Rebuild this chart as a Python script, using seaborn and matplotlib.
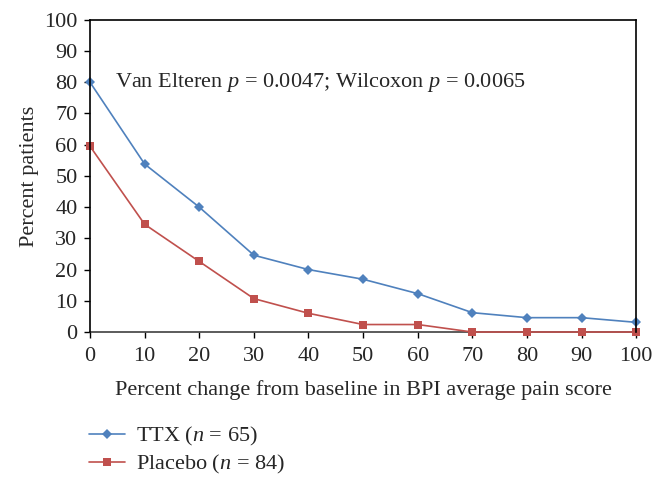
import pandas as pd
import matplotlib
matplotlib.use("Agg")
import matplotlib.pyplot as plt
import seaborn as sns

# values
pct_change = [0, 10, 20, 30, 40, 50, 60, 70, 80, 90, 100]
ttx = [80.0, 53.8, 40.0, 24.6, 20.0, 16.9, 12.3, 6.2, 4.6, 4.6, 3.1]
placebo = [59.5, 34.5, 22.6, 10.7, 6.0, 2.4, 2.4, 0.0, 0.0, 0.0, 0.0]
group_labels = ["TTX ($n$ = 65)", "Placebo ($n$ = 84)"]

df = pd.DataFrame({
    "change": pct_change * 2,
    "pct": ttx + placebo,
    "group": [group_labels[0]] * len(ttx) + [group_labels[1]] * len(placebo),
})

sns.set_style("white")
plt.rcParams["font.family"] = ["Liberation Serif", "DejaVu Serif"]
plt.rcParams["mathtext.fontset"] = "custom"
plt.rcParams["mathtext.it"] = "Liberation Serif:italic"
plt.rcParams["mathtext.rm"] = "Liberation Serif"

fig = plt.figure(figsize=(6.62, 4.84), dpi=100)
ax = fig.add_axes([0.136, 0.314, 0.825, 0.645])

palette = {group_labels[0]: "#4f81bd", group_labels[1]: "#c0504d"}
markers = {group_labels[0]: "D", group_labels[1]: "s"}
sns.lineplot(data=df, x="change", y="pct", hue="group", style="group",
             palette=palette, markers=markers, dashes=False, ax=ax,
             linewidth=1.2, markersize=5.5, markeredgewidth=0, clip_on=False)

ax.set_xlim(0, 100)
ax.set_ylim(0, 100)
ax.set_xticks(range(0, 101, 10))
ax.set_yticks(range(0, 101, 10))
ax.tick_params(axis="both", labelsize=16, length=4, width=1, color="black",
               direction="out", left=True, bottom=True)
ax.tick_params(axis="x", pad=7)
ax.tick_params(axis="y", pad=5)
for s in ax.spines.values():
    s.set_color("black")
    s.set_linewidth(1.2)
ax.spines["bottom"].set_color("#404040")
ax.spines["bottom"].set_zorder(1)

ax.set_xlabel("Percent change from baseline in BPI average pain score", fontsize=16, labelpad=10)
ax.set_ylabel("Percent patients", fontsize=16, labelpad=4)

ax.text(4.6, 80, "Van Elteren $p$ = 0.0047; Wilcoxon $p$ = 0.0065",
        fontsize=16, va="center", ha="left")

handles, labels = ax.get_legend_handles_labels()
ax.get_legend().remove()
fig.legend(handles, labels, loc="upper left", bbox_to_anchor=(0.135, 0.121),
           frameon=False, fontsize=16, handlelength=1.6, labelspacing=0.2,
           handletextpad=0.5, borderaxespad=0, borderpad=0)

fig.savefig("out.png", dpi=100)
